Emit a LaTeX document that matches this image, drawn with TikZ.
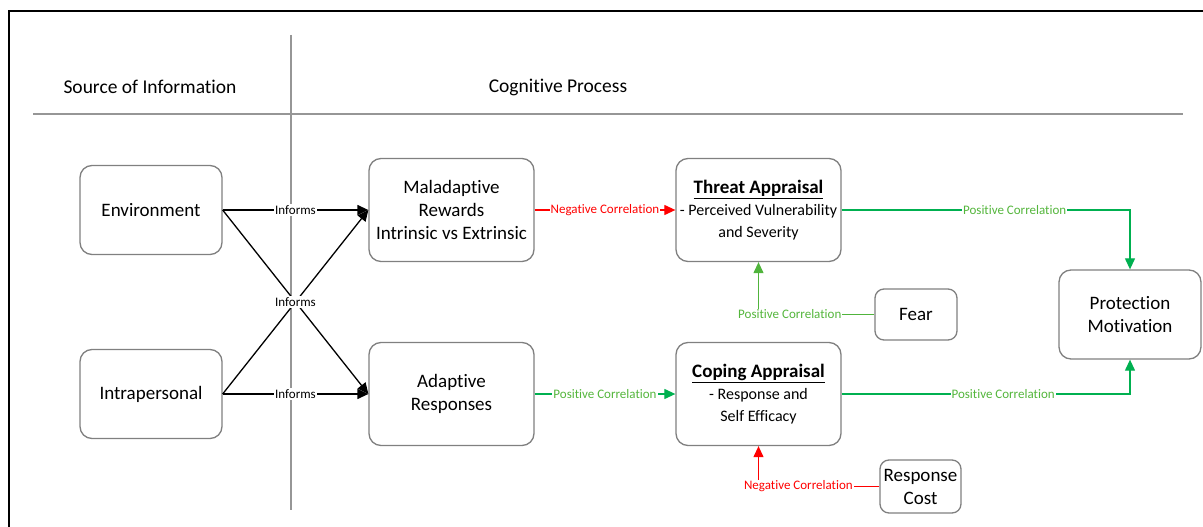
\documentclass[tikz,border=0pt]{standalone}
\usepackage{fontspec}
\setmainfont{Carlito}[Ligatures={NoCommon}]
\usetikzlibrary{arrows.meta,calc}
\definecolor{boxgray}{RGB}{128,128,128}
\definecolor{divgray}{RGB}{150,150,150}
\definecolor{lgreen}{RGB}{0,176,80}
\definecolor{tgreen}{RGB}{84,182,60}
\definecolor{fgreen}{RGB}{80,180,60}
\definecolor{cred}{RGB}{255,0,0}
\tikzset{
  box/.style={draw=boxgray,line width=1.3pt,rounded corners=12pt,fill=white,align=center,
    inner sep=0pt,font=\fontsize{19}{23}\selectfont},
  tip/.style={-{Triangle[length=11pt,width=10pt]}},
  blk/.style={tip,draw=black,line width=1.3pt},
  redc/.style={tip,draw=cred,line width=1.2pt},
  grnc/.style={tip,draw=lgreen,line width=1.2pt},
  fgrnc/.style={tip,draw=fgreen,line width=1.2pt},
  lbl/.style={fill=white,inner sep=1pt,font=\fontsize{13}{14}\selectfont},
  inf/.style={lbl,text=black},
  neglbl/.style={lbl,text=cred},
  poslbl/.style={lbl,text=tgreen},
  hdr/.style={font=\fontsize{19.5}{23}\selectfont,inner sep=0pt},
  divider/.style={draw=divgray,line width=2pt}
}
\begin{document}
\begin{tikzpicture}[x=1pt,y=-1pt]
\useasboundingbox (0,0) rectangle (1203,527);
% frame
\draw[line width=2.2pt,black] (9,527) -- (9,11) -- (1203,11);
% dividers
\coordinate (hl) at (33,114);
\coordinate (hr) at (1183,114);
\coordinate (vt) at (291,35);
\coordinate (vb) at (291,510);
\draw[divider] (hl) -- (hr);
\draw[divider] (vt) -- (vb);
% headers
\node[hdr] (src) at (150,87) {Source of Information};
\node[hdr] (cog) at (558,87) {Cognitive Process};
% boxes
\node[box,minimum width=142pt,minimum height=89pt] (env) at (151,210) {Environment};
\node[box,minimum width=142pt,minimum height=89pt] (intra) at (151,394) {Intrapersonal};
\node[box,minimum width=165pt,minimum height=103pt] (mal) at (451.5,210) {Maladaptive\\Rewards\\Intrinsic vs Extrinsic};
\node[box,minimum width=165pt,minimum height=103pt] (ada) at (451.5,394) {Adaptive\\Responses};
\node[box,minimum width=165pt,minimum height=103pt] (thr) at (758.5,210)
  {\textbf{\underline{Threat Appraisal}}\\[-1pt]{\fontsize{16}{22}\selectfont - Perceived Vulnerability}\\[-1pt]{\fontsize{16}{22}\selectfont and Severity}};
\node[box,minimum width=165pt,minimum height=103pt] (cop) at (758.5,394)
  {\textbf{\underline{Coping Appraisal}}\\[-1pt]{\fontsize{16}{22}\selectfont - Response and}\\[-1pt]{\fontsize{16}{22}\selectfont Self Efficacy}};
\node[box,minimum width=82pt,minimum height=51pt,rounded corners=9pt] (fear) at (916,314.5) {Fear};
\node[box,minimum width=142pt,minimum height=89pt] (pm) at (1130,314.5) {Protection\\Motivation};
\node[box,minimum width=81pt,minimum height=53pt,rounded corners=9pt] (rc) at (920.5,486.5) {Response\\Cost};
% informs connectors
\draw[blk] (env.east) -- node[inf] {Informs} (mal.west);
\draw[blk] (intra.east) -- node[inf] {Informs} (ada.west);
\draw[blk] (env.east) -- (ada.west);
\draw[blk] (intra.east) -- (mal.west);
\coordinate (cross) at ($(env.east)!0.5!(ada.west)$);
\node[inf] (crosslbl) at (cross) {Informs};
% correlations
\draw[redc] (mal.east) -- node[neglbl] {Negative Correlation} (thr.west);
\draw[grnc] (ada.east) -- node[poslbl] {Positive Correlation} (cop.west);
\draw[grnc] (thr.east) -- node[poslbl,pos=0.6] {Positive Correlation} (thr.east -| pm.north) -- (pm.north);
\draw[grnc] (cop.east) -- node[poslbl,pos=0.56] {Positive Correlation} (cop.east -| pm.south) -- (pm.south);
\draw[fgrnc] (fear.west) -- node[poslbl,pos=0.73] {Positive Correlation} (fear.west -| thr.south) -- (thr.south);
\draw[redc] (rc.west) -- node[neglbl,pos=0.67] {Negative Correlation} (rc.west -| cop.south) -- (cop.south);
\end{tikzpicture}
\end{document}
